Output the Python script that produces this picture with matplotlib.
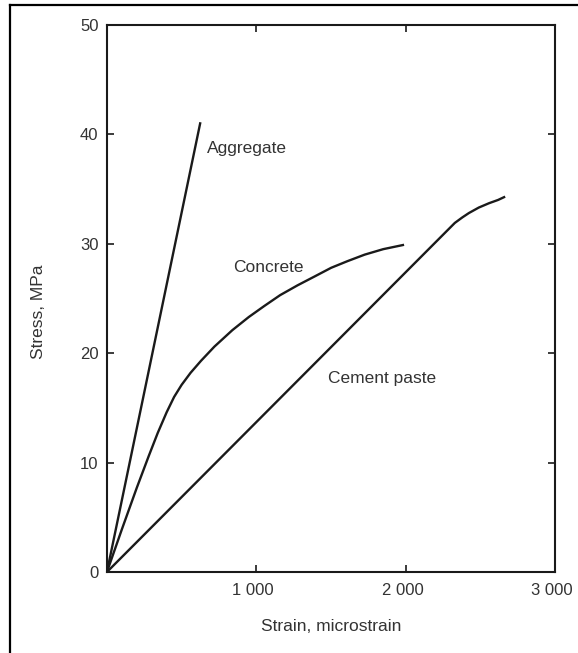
import matplotlib
matplotlib.use('Agg')
import matplotlib.pyplot as plt
import matplotlib.transforms as mtransforms
from matplotlib.lines import Line2D

plt.rcParams['font.family'] = ['Liberation Sans', 'DejaVu Sans']

# data (strain in microstrain, stress in MPa)
agg_x = [0, 626]
agg_y = [0, 41.1]

conc_x = [0, 100, 200, 280, 340, 400, 450, 500, 560, 630, 720, 840, 950,
          1053, 1160, 1277, 1390, 1502, 1610, 1726, 1850, 1990]
conc_y = [0, 3.9, 7.7, 10.6, 12.7, 14.6, 16.0, 17.1, 18.2, 19.3, 20.6, 22.1, 23.3,
          24.3, 25.3, 26.2, 27.0, 27.8, 28.4, 29.0, 29.5, 29.9]

paste_x = [0, 2330, 2380, 2424, 2490, 2559, 2620, 2667]
paste_y = [0, 31.9, 32.4, 32.8, 33.3, 33.7, 34.0, 34.3]

xticks = [1000, 2000, 3000]
xticklabels = ['1 000', '2 000', '3 000']
yticks = [0, 10, 20, 30, 40, 50]

txt = '#333333'
ink = '#1a1a1a'

fig = plt.figure(figsize=(5.78, 6.53), dpi=100)
ax = fig.add_axes([0.185, 0.124, 0.775, 0.838])

for xs, ys in [(agg_x, agg_y), (conc_x, conc_y), (paste_x, paste_y)]:
    ax.plot(xs, ys, color=ink, lw=1.7, solid_capstyle='butt',
            solid_joinstyle='round')

ax.text(673, 38.7, 'Aggregate', fontsize=12.5, color=txt, va='center')
ax.text(842, 27.8, 'Concrete', fontsize=12.5, color=txt, va='center')
ax.text(1481, 17.7, 'Cement paste', fontsize=12.5, color=txt, va='center')

ax.set_xlim(0, 3000)
ax.set_ylim(0, 50)
ax.set_xticks(xticks)
ax.set_xticklabels(xticklabels)
ax.set_yticks(yticks)
ax.tick_params(direction='in', length=5, width=1.2, color=ink,
               labelsize=12, labelcolor=txt, top=True, right=True)
ax.tick_params(axis='x', pad=8)
ax.tick_params(axis='y', pad=6)
for s in ax.spines.values():
    s.set_linewidth(1.5)
    s.set_color(ink)

# the x tick labels sit a little left of their ticks in the original
shift = mtransforms.ScaledTranslation(-3/100, 0, fig.dpi_scale_trans)
for lab in ax.get_xticklabels():
    lab.set_transform(lab.get_transform() + shift)

ax.set_xlabel('Strain, microstrain', fontsize=12.5, color=txt, labelpad=15)
ax.set_ylabel('Stress, MPa', fontsize=12.5, color=txt)
ax.yaxis.set_label_coords(-0.135, 0.475)

# frame lines of the original figure box
fig.add_artist(Line2D([10/578, 10/578], [0, 1 - 5/653], color='black', lw=1.6))
fig.add_artist(Line2D([10/578, 1], [1 - 5/653, 1 - 5/653], color='black', lw=1.6))

fig.savefig('out.png', dpi=100)
